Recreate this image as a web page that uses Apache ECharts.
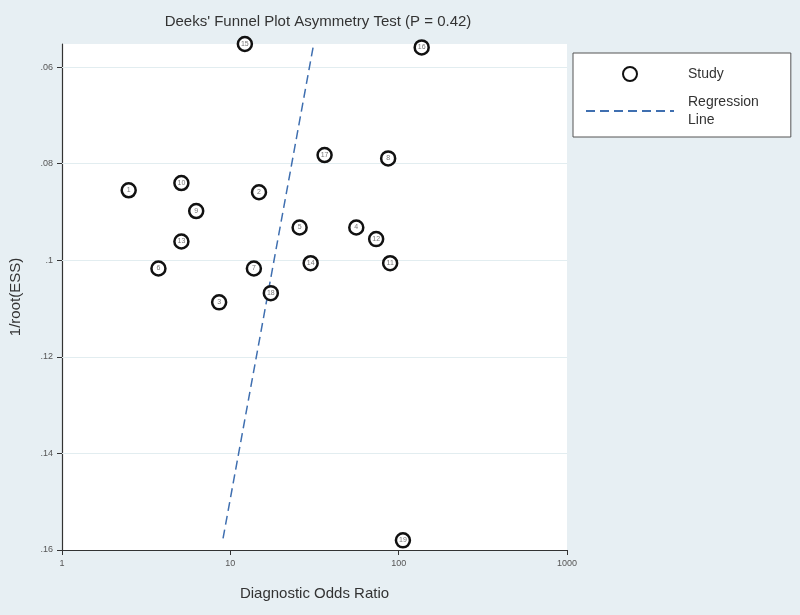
<!DOCTYPE html>
<html>
<head>
<meta charset="utf-8">
<script src="https://cdn.jsdelivr.net/npm/echarts@6/dist/echarts.min.js"></script>
<style>
  html, body { margin: 0; padding: 0; background: #e7eff3; }
  #chart { width: 800px; height: 615px; }
</style>
</head>
<body>
<div id="chart"></div>
<script>
// study points: diagnostic odds ratio vs 1/root(ESS)
var studyIds = ["15", "16", "17", "8", "1", "10", "2", "9", "5", "4", "12", "13", "6", "7", "14", "11", "18", "3", "19"];
var studyDor = [12.2, 137, 36.3, 86.6, 2.49, 5.12, 14.8, 6.27, 25.8, 56.0, 73.5, 5.12, 3.74, 13.8, 30.0, 89.0, 17.4, 8.58, 106];
var studyEss = [0.0552, 0.0559, 0.0782, 0.0789, 0.0855, 0.0840, 0.0859, 0.0898, 0.0932, 0.0932, 0.0956, 0.0961, 0.1017, 0.1017, 0.1006, 0.1006, 0.1068, 0.1087, 0.1580];

// regression line end points
var lineDor = [9.05, 31.2];
var lineEss = [0.1576, 0.0554];

var yTicks = [0.06, 0.08, 0.10, 0.12, 0.14, 0.16];
var yTickLabels = [".06", ".08", ".1", ".12", ".14", ".16"];

var chart = echarts.init(document.getElementById("chart"));

var points = studyDor.map(function (d, i) {
  return { value: [d, studyEss[i]], name: studyIds[i] };
});
var regLine = lineDor.map(function (d, i) {
  return [d, lineEss[i]];
});

chart.setOption({
  backgroundColor: "#e7eff3",
  animation: false,
  textStyle: { fontFamily: "Liberation Sans, Arial, sans-serif" },
  title: {
    text: "Deeks' Funnel Plot Asymmetry Test (P = 0.42)",
    left: 313,
    textAlign: "center",
    top: 9,
    textStyle: { color: "#333", fontSize: 15, fontWeight: "normal" }
  },
  grid: {
    left: 59,
    right: 233,
    top: 44,
    bottom: 65,
    show: true,
    backgroundColor: "#fff",
    borderWidth: 0
  },
  legend: {
    orient: "vertical",
    left: 573,
    top: 53,
    padding: [12, 32, 8, 12],
    itemWidth: 88,
    itemHeight: 14,
    itemGap: 10,
    backgroundColor: "#fff",
    borderColor: "#555",
    borderWidth: 1,
    textStyle: { color: "#333", fontSize: 14, lineHeight: 18, padding: [0, 0, 0, 9] },
    formatter: function (name) {
      return name === "Regression Line" ? "Regression\nLine" : name;
    },
    data: [
      { name: "Study" },
      { name: "Regression Line", itemStyle: { opacity: 0 } }
    ]
  },
  xAxis: {
    type: "log",
    logBase: 10,
    min: 1,
    max: 1000,
    name: "Diagnostic Odds Ratio",
    nameLocation: "middle",
    nameGap: 36,
    nameTextStyle: { color: "#333", fontSize: 15 },
    axisLine: { show: true, onZero: false, lineStyle: { color: "#333", width: 1.2 } },
    axisTick: { show: true, length: 5, lineStyle: { color: "#333" } },
    axisLabel: {
      color: "#555",
      fontSize: 9,
      margin: 9,
      formatter: function (v) { return String(Math.round(v)); }
    },
    splitLine: { show: false },
    minorTick: { show: false }
  },
  yAxis: {
    type: "value",
    inverse: true,
    min: 0.0552,
    max: 0.16,
    name: "1/root(ESS)",
    nameLocation: "middle",
    nameGap: 39,
    nameTextStyle: { color: "#333", fontSize: 15 },
    axisLine: { show: true, onZero: false, lineStyle: { color: "#333", width: 1.2 } },
    axisTick: { show: true, length: 5, customValues: yTicks, lineStyle: { color: "#333" } },
    axisLabel: {
      color: "#555",
      fontSize: 9,
      margin: 9,
      customValues: yTicks,
      formatter: function (v) {
        var i = yTicks.findIndex(function (t) { return Math.abs(t - v) < 1e-6; });
        return i >= 0 ? yTickLabels[i] : "";
      }
    },
    splitLine: { show: false }
  },
  series: [
    {
      name: "Study",
      type: "scatter",
      symbol: "circle",
      symbolSize: 14,
      z: 3,
      itemStyle: { color: "#fff", borderColor: "#111", borderWidth: 2.5, opacity: 1 },
      label: {
        show: true,
        position: "inside",
        formatter: "{b}",
        fontSize: 7,
        color: "#777"
      },
      data: points
    },
    {
      name: "Regression Line",
      type: "line",
      symbol: "none",
      z: 2,
      lineStyle: { color: "#3f6fb0", width: 1.5, type: [9, 5] },
      itemStyle: { color: "#3f6fb0" },
      data: regLine,
      markLine: {
        silent: true,
        symbol: "none",
        z: 1,
        label: { show: false },
        lineStyle: { color: "#e2edf0", width: 1, type: "solid" },
        data: yTicks.slice(0, 5).map(function (t) { return { yAxis: t }; })
      }
    }
  ]
});
</script>
</body>
</html>
